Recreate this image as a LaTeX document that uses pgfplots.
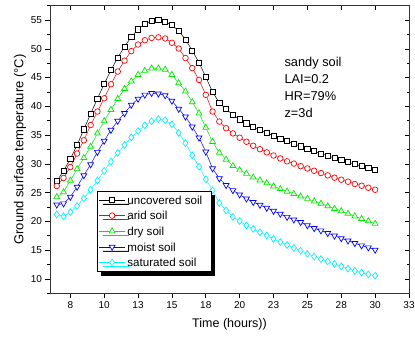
\documentclass[border=0pt]{standalone}
\usepackage{fontspec}
\setmainfont{Liberation Sans}
\usepackage{pgfplots}
\pgfplotsset{compat=1.18}
\usepackage{pgfplotstable}
\usetikzlibrary{shadows}
\definecolor{mygreen}{RGB}{0,235,0}
\definecolor{myblue}{RGB}{0,0,255}
\definecolor{mycyan}{RGB}{0,245,255}
\definecolor{myred}{RGB}{255,0,0}

\pgfplotstableread{
x    unc   arid  dry   moist sat
6.5  27.0  26.15 24.25 22.9  21.2
7.0  28.8  27.55 25.1  23.1  20.9
7.5  30.85 29.45 27.1  24.25 21.6
8.0  33.3  31.8  29.1  26.0  22.7
8.5  36.0  34.1  31.05 28.0  24.0
9.0  38.7  36.75 33.0  29.9  25.5
9.5  41.35 39.1  35.3  32.05 27.1
10.0 43.9  41.4  37.45 34.0  28.8
10.5 46.3  43.85 39.4  35.9  30.4
11.0 48.45 46.05 41.3  37.45 31.9
11.5 50.4  47.95 43.05 38.8  33.3
12.0 52.05 49.6  44.35 40.25 34.6
12.5 53.4  50.75 45.5  41.3  35.7
13.0 54.35 51.5  46.2  42.0  36.7
13.5 54.85 51.9  46.6  42.3  37.4
14.0 55.0  52.0  46.6  42.2  37.8
14.5 54.7  51.8  46.4  41.9  37.6
15.0 54.1  51.05 45.5  40.95 36.9
15.5 53.15 50.05 44.05 39.55 35.4
16.0 51.6  48.4  42.6  38.2  33.6
16.5 49.7  46.65 40.75 36.45 31.5
17.0 47.6  44.6  38.8  34.55 29.5
17.5 45.1  42.0  36.3  32.1  27.3
18.0 42.5  39.1  33.85 29.2  25.4
18.5 40.6  37.35 31.95 27.45 23.2
19.0 39.5  36.2  30.75 26.3  21.9
19.5 38.55 35.3  29.65 25.4  20.8
20.0 37.75 34.55 28.9  24.65 20.05
20.5 37.05 33.85 28.3  23.95 19.3
21.0 36.45 33.15 27.65 23.35 18.7
21.5 35.9  32.55 27.15 22.85 18.1
22.0 35.4  32.0  26.65 22.35 17.55
22.5 34.9  31.45 26.1  21.8  16.95
23.0 34.4  30.95 25.65 21.3  16.4
23.5 33.95 30.45 25.2  20.75 15.9
24.0 33.5  30.05 24.8  20.3  15.4
24.5 33.05 29.6  24.35 19.85 14.9
25.0 32.6  29.2  23.95 19.3  14.35
25.5 32.2  28.8  23.5  18.8  13.9
26.0 31.8  28.4  23.1  18.4  13.45
26.5 31.4  28.0  22.65 17.95 13.05
27.0 31.0  27.6  22.2  17.5  12.6
27.5 30.65 27.25 21.8  17.05 12.2
28.0 30.3  26.9  21.35 16.65 11.8
28.5 29.95 26.5  20.9  16.2  11.4
29.0 29.6  26.2  20.45 15.8  11.1
29.5 29.25 25.85 20.05 15.45 10.8
30.0 28.9  25.5  19.6  15.05 10.55
}\data

\begin{document}
\begin{tikzpicture}
\pgfplotsset{
  commonaxis/.style={
    scale only axis,
    width=359pt, height=287.6pt,
    xmin=6, xmax=32.5, ymin=7.5, ymax=57.5,
    xtick={7.5,10,...,32.5},
    ytick={10,15,...,55},
    minor ytick={7.5,12.5,...,57.5},
    major tick length=4.5pt, minor tick length=2.5pt,
    tick style={black, line width=0.6pt},
    axis line style={line width=0.7pt, black!80},
  }
}
\begin{axis}[
  commonaxis,
  xtick pos=bottom, ytick pos=left,
  tick align=outside,
  xticklabels={8,10,13,15,18,20,23,25,28,30,33},
  ticklabel style={font=\fontsize{10}{12}\selectfont},
  /pgf/number format/assume math mode=true,
  xlabel={Time (hours))},
  ylabel={Ground surface temperature (°C)},
  xlabel style={font=\fontsize{12.5}{14}\selectfont, at={(rel axis cs:0.5,0)}, anchor=center, yshift=-31pt},
  ylabel style={font=\fontsize{13}{15}\selectfont, at={(rel axis cs:0,0.5)}, anchor=center, yshift=30pt},
  legend cell align=left,
  legend image code/.code={
    \draw[mark repeat=2,mark phase=2] plot coordinates {(0pt,0pt) (13pt,0pt) (26pt,0pt)};
  },
  legend style={at={(0.132,0.357)}, anchor=north west, draw=black, line width=0.6pt,
    fill=white, font=\fontsize{11.6}{14.5}\selectfont\strut, inner sep=1.2pt, row sep=0pt,
    drop shadow={shadow xshift=3.5pt, shadow yshift=-4pt, fill=black, opacity=1}},
]
\addplot[black, line width=0.5pt, mark=square*, mark size=2.6pt, mark options={fill=white, solid, line width=0.7pt}] table[x=x, y=unc] {\data};
\addlegendentry{uncovered soil\hspace*{6pt}}
\addplot[myred, line width=0.5pt, mark=*, mark size=2.8pt, mark options={fill=white, solid, line width=0.7pt}] table[x=x, y=arid] {\data};
\addlegendentry{arid soil}
\addplot[mygreen, line width=0.5pt, mark=triangle*, mark size=3.4pt, mark options={fill=white, solid, line width=0.7pt}] table[x=x, y=dry] {\data};
\addlegendentry{dry soil}
\addplot[myblue, line width=0.5pt, mark=triangle*, mark size=3.4pt, mark options={fill=white, solid, line width=0.7pt, rotate=180}] table[x=x, y=moist] {\data};
\addlegendentry{moist soil}
\addplot[mycyan, line width=0.5pt, mark=diamond*, mark size=3.4pt, mark options={fill=white, solid, line width=0.7pt}] table[x=x, y=sat] {\data};
\addlegendentry{saturated soil}
\node[anchor=north west, inner sep=0pt, align=left, font=\fontsize{12.8}{17}\selectfont] at (axis cs:23.3,48.6) {sandy soil\\LAI=0.2\\HR=79\%\\z=3d};
\coordinate (bl) at (rel axis cs:0,0);
\coordinate (tr) at (rel axis cs:1,1);
\end{axis}
\begin{axis}[
  commonaxis,
  xtick pos=top, ytick pos=right,
  tick align=inside,
  xticklabels={}, yticklabels={},
]
\end{axis}
\pgfresetboundingbox
\path[use as bounding box] ([shift={(-50pt,-44.7pt)}]bl) rectangle ([shift={(6pt,5.7pt)}]tr);
\end{tikzpicture}
\end{document}
